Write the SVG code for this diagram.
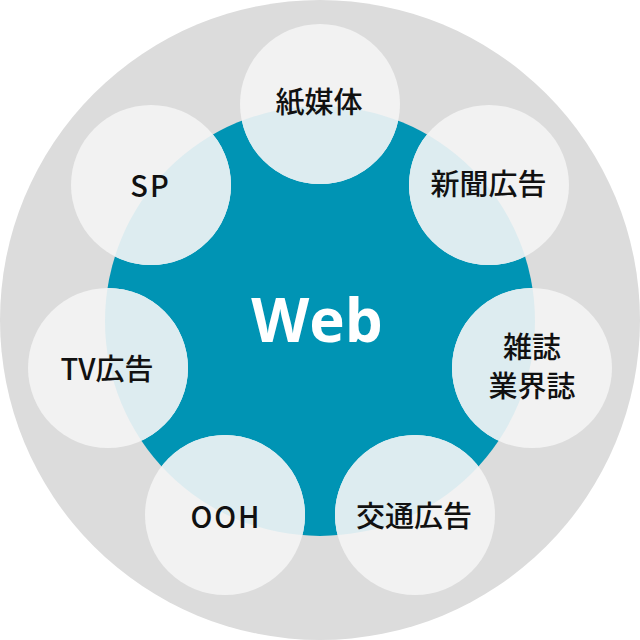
<svg xmlns="http://www.w3.org/2000/svg" width="640" height="640" viewBox="0 0 640 640">
<style>
.bg{fill:#dcdcdc}
.core{fill:#0094b4}
.n{fill:#f2f2f2}
.ov{fill:#ddecf0}
.t{font-family:"Noto Sans CJK JP","Noto Sans",sans-serif;font-size:29px;font-weight:500;fill:#111;text-anchor:middle}
.w{font-family:"Open Sans","Noto Sans",sans-serif;font-size:60px;font-weight:700;fill:#fff;text-anchor:middle}
</style>
<defs>
<clipPath id="coreclip"><circle cx="320" cy="321" r="215"/></clipPath>
</defs>
<circle class="bg" cx="320" cy="320" r="320"/>
<g id="web">
<circle class="core" cx="320" cy="321" r="215"/>
<text class="w" x="317" y="342">Web</text>
</g>
<g id="n1">
<circle class="n" cx="320" cy="104" r="80"/>
<circle class="ov" cx="320" cy="104" r="80" clip-path="url(#coreclip)"/>
<text class="t" x="319" y="113">紙媒体</text>
</g>
<g id="n2">
<circle class="n" cx="489" cy="185" r="80"/>
<circle class="ov" cx="489" cy="185" r="80" clip-path="url(#coreclip)"/>
<text class="t" x="488.5" y="194.5">新聞広告</text>
</g>
<g id="n3">
<circle class="n" cx="532" cy="368" r="80"/>
<circle class="ov" cx="532" cy="368" r="80" clip-path="url(#coreclip)"/>
<text class="t" x="532" y="358">雑誌</text>
<text class="t" x="532" y="396.5">業界誌</text>
</g>
<g id="n4">
<circle class="n" cx="415" cy="515" r="80"/>
<circle class="ov" cx="415" cy="515" r="80" clip-path="url(#coreclip)"/>
<text class="t" x="414" y="527">交通広告</text>
</g>
<g id="n5">
<circle class="n" cx="225" cy="515" r="80"/>
<circle class="ov" cx="225" cy="515" r="80" clip-path="url(#coreclip)"/>
<text class="t" x="226" y="528" letter-spacing="2">OOH</text>
</g>
<g id="n6">
<circle class="n" cx="108" cy="368" r="80"/>
<circle class="ov" cx="108" cy="368" r="80" clip-path="url(#coreclip)"/>
<text class="t" x="107" y="380">TV広告</text>
</g>
<g id="n7">
<circle class="n" cx="151" cy="185" r="80"/>
<circle class="ov" cx="151" cy="185" r="80" clip-path="url(#coreclip)"/>
<text class="t" x="150.5" y="197" letter-spacing="2">SP</text>
</g>
<g id="connectors"></g>
</svg>
